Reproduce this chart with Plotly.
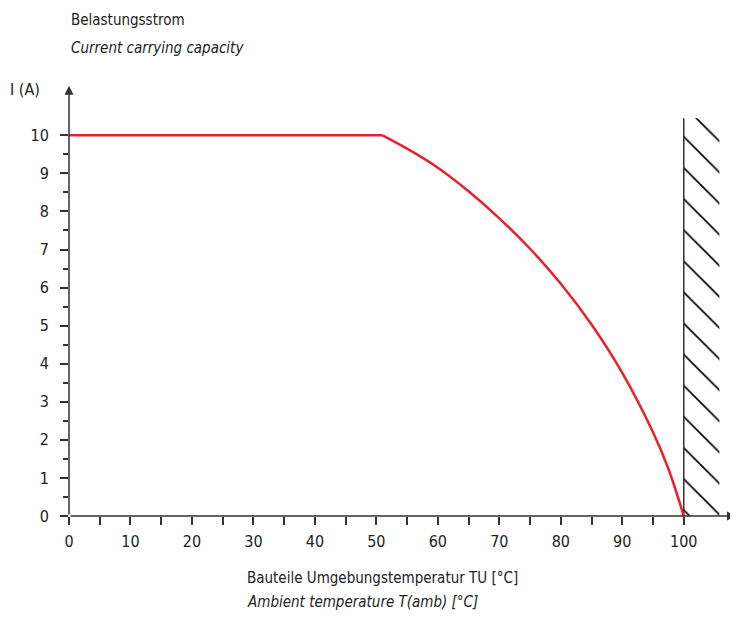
import plotly.graph_objects as go

temp_flat = [0, 51]
curr_flat = [10, 10]
temp_curve = [51, 55, 60, 65, 70, 75, 80, 85, 90, 95, 97.5, 100]
curr_curve = [10, 9.65, 9.15, 8.53, 7.82, 7.02, 6.10, 5.03, 3.76, 2.20, 1.24, 0]

# Sperrbereich (schraffiert)
hatch_x = [100, 105.8, 105.8, 100, 100]
hatch_y = [0, 0, 10.45, 10.45, 0]

x_ticks = list(range(0, 101, 10))
x_minor = list(range(5, 100, 10))
y_ticks = list(range(0, 11))
y_minor = [i + 0.5 for i in range(0, 10)]

FONT = "DejaVu Sans Condensed, Liberation Sans Narrow, Liberation Sans, sans-serif"
AX = "#333333"
RED = "#e8212b"

fig = go.Figure()

# schraffierte Fläche
fig.add_trace(go.Scatter(
    x=hatch_x, y=hatch_y, mode="lines", fill="toself",
    line=dict(width=0), fillcolor="rgba(0,0,0,0)",
    fillpattern=dict(shape="\\", size=22, solidity=0.075, fgcolor="black",
                     fgopacity=1, bgcolor="white"),
    hoverinfo="skip",
))
# linke Kante der Schraffur
fig.add_trace(go.Scatter(
    x=[hatch_x[0], hatch_x[3]], y=[hatch_y[0], hatch_y[3]], mode="lines",
    line=dict(color=AX, width=1.5), hoverinfo="skip",
))

fig.add_trace(go.Scatter(x=temp_flat, y=curr_flat, mode="lines",
                         line=dict(color=RED, width=2.5)))
fig.add_trace(go.Scatter(x=temp_curve, y=curr_curve, mode="lines",
                         line=dict(color=RED, width=2.5, shape="spline", smoothing=1.0)))

tick_common = dict(
    ticks="outside", ticklen=8, tickwidth=1.5, tickcolor=AX,
    showgrid=False, zeroline=False, showline=False,
    tickfont=dict(family=FONT, size=16, color="#222"),
)

fig.update_xaxes(range=[0, 108.5], tickvals=x_ticks, ticktext=[str(v) for v in x_ticks],
                 ticklabelstandoff=3,
                 minor=dict(tickvals=x_minor, ticks="outside", ticklen=8, tickwidth=1.5, tickcolor=AX),
                 **tick_common)
fig.update_yaxes(range=[0, 11.4], tickvals=y_ticks, ticktext=[str(v) for v in y_ticks],
                 ticklabelstandoff=8,
                 minor=dict(tickvals=y_minor, ticks="outside", ticklen=5, tickwidth=1.5, tickcolor=AX),
                 **tick_common)

# Achsen mit Pfeilen
fig.add_annotation(x=108.5, y=0, ax=0, ay=0, xref="x", yref="y", axref="x", ayref="y",
                   showarrow=True, arrowhead=2, arrowsize=1.2, arrowwidth=1.5, arrowcolor=AX, text="")
fig.add_annotation(x=0, y=11.3, ax=0, ay=0, xref="x", yref="y", axref="x", ayref="y",
                   showarrow=True, arrowhead=2, arrowsize=1.2, arrowwidth=1.5, arrowcolor=AX, text="")

txt = dict(family=FONT, size=15, color="#222")
txt_i = dict(family=FONT, size=15, color="#222", style="italic")
fig.add_annotation(text="Belastungsstrom", xref="paper", yref="paper", x=0, y=1.143,
                   xanchor="left", yanchor="middle", showarrow=False, font=txt)
fig.add_annotation(text="Current carrying capacity", xref="paper", yref="paper", x=0, y=1.078,
                   xanchor="left", yanchor="middle", showarrow=False, font=txt_i)
fig.add_annotation(text="I (A)", xref="paper", yref="paper", x=-0.092, y=0.983,
                   xanchor="left", yanchor="middle", showarrow=False,
                   font=dict(family=FONT, size=16, color="#222"))
fig.add_annotation(text="Bauteile Umgebungstemperatur TU [°C]", xref="paper", yref="paper",
                   x=0.264, y=-0.143, xanchor="left", yanchor="middle", showarrow=False, font=txt)
fig.add_annotation(text="Ambient temperature T(amb) [°C]", xref="paper", yref="paper",
                   x=0.264, y=-0.199, xanchor="left", yanchor="middle", showarrow=False, font=txt_i)

# Seite hat 8px Body-Rand -> Figur entsprechend kleiner
fig.update_layout(
    width=730, height=609,
    margin=dict(l=61, r=2, t=74, b=101),
    paper_bgcolor="white", plot_bgcolor="white",
    showlegend=False,
)

fig.write_html("out.html")
